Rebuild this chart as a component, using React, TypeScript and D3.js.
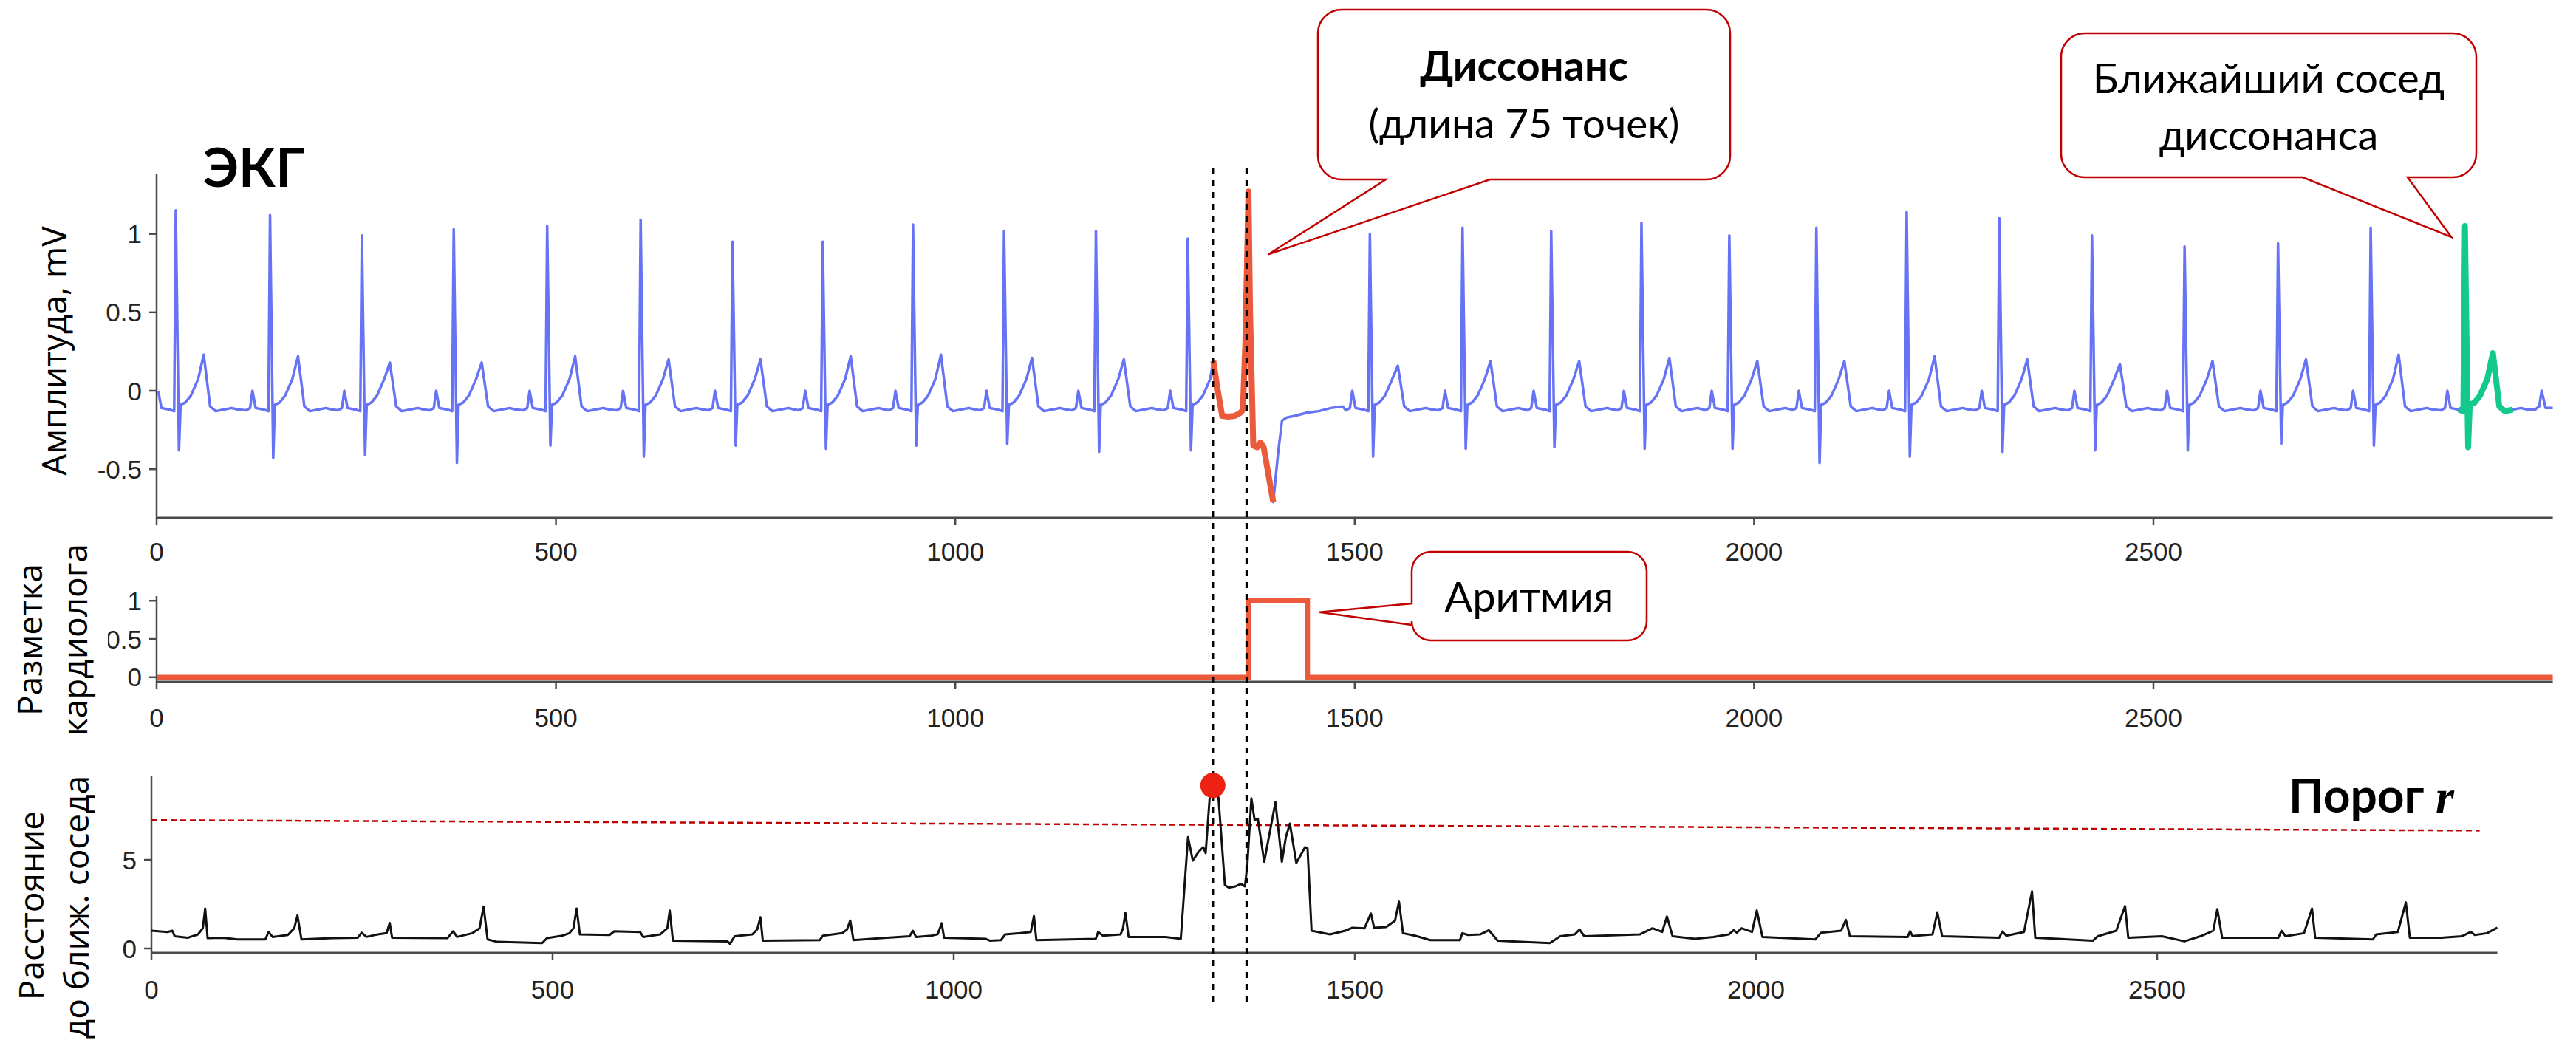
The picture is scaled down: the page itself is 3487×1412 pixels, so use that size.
import React from "react";
import * as d3 from "d3";

const W = 3487;
const H = 1412;

// ---- ЭКГ: положение и амплитуды зубцов каждого удара
const rPeakX = [24, 142, 257, 372, 489, 606, 721, 834, 947, 1061, 1176, 1291, 1519, 1635, 1746, 1859, 1969, 2078, 2191, 2307, 2423, 2539, 2656, 2772, 2890];
const rPeakAmp = [1.15, 1.12, 0.99, 1.03, 1.05, 1.09, 0.95, 0.95, 1.06, 1.02, 1.02, 0.97, 1.0, 1.04, 1.02, 1.07, 0.99, 1.04, 1.14, 1.1, 0.99, 0.92, 0.94, 1.04, 1.05];
const sWaveAmp = [-0.38, -0.43, -0.41, -0.46, -0.35, -0.42, -0.35, -0.37, -0.35, -0.34, -0.39, -0.38, -0.42, -0.37, -0.36, -0.37, -0.37, -0.46, -0.42, -0.39, -0.38, -0.38, -0.34, -0.35, -0.36];
const tWaveAmp = [0.23, 0.22, 0.18, 0.18, 0.22, 0.2, 0.2, 0.22, 0.23, 0.21, 0.2, 0.19, 0.16, 0.19, 0.19, 0.21, 0.19, 0.19, 0.22, 0.2, 0.17, 0.19, 0.2, 0.23, 0.24];

// форма типичного удара: сдвиг от R-зубца и уровень, mV ("R"/"S"/"T" - свой для каждого удара)
const beatShape: [number, number | string][] = [
  [-30, -0.125], [-25, -0.11], [-22, 0.0], [-18, -0.11], [-8, -0.12], [-2, -0.13],
  [0, "R"], [4, "S"], [6, -0.09], [12, -0.075], [19, -0.03], [28, 0.075],
  [35, "T"], [43, -0.1], [50, -0.13], [60, -0.12], [70, -0.11], [78, -0.12],
];

// диссонанс (75 точек) и участок сразу после него
const discordSeg = [
  [1323, 0.19], [1328, 0.02], [1334, -0.16], [1342, -0.165], [1350, -0.16], [1357, -0.14],
  [1360, -0.12], [1363, 0.3], [1367, 1.27], [1369, 0.5], [1373, -0.35], [1378, -0.36],
  [1382, -0.33], [1386, -0.36], [1398, -0.71],
];
const recoverySeg = [
  [1404, -0.4], [1409, -0.19], [1415, -0.17], [1425, -0.16], [1440, -0.14], [1455, -0.13], [1470, -0.11], [1485, -0.1],
];
const tailSeg = [[2978, -0.12], [2983, -0.1], [2986, 0.0], [2991, -0.11], [3000, -0.11]];
const neighbourRange = [2880, 2956];

// ---- разметка кардиолога
const labelX = [0, 1367, 1441, 3000];
const labelY = [0, 1, 0, 0];

// ---- расстояние до ближайшего соседа (профиль матрицы)
const mpPoints = [
  [0, 1.0], [20, 0.93], [26, 1.0], [29, 0.69], [45, 0.6], [58, 0.79], [64, 1.14], [67, 2.25], [70, 0.58], [89, 0.6],
  [107, 0.51], [142, 0.51], [146, 0.93], [151, 0.65], [170, 0.76], [178, 1.14], [182, 1.86], [187, 0.51], [226, 0.58],
  [257, 0.6], [262, 0.89], [268, 0.65], [282, 0.79], [293, 0.86], [297, 1.44], [300, 0.6], [369, 0.58], [376, 0.97],
  [381, 0.65], [400, 0.86], [409, 1.14], [414, 2.36], [419, 0.51], [431, 0.37], [487, 0.3], [493, 0.58], [512, 0.72],
  [521, 0.86], [526, 1.14], [530, 2.25], [534, 0.79], [571, 0.76], [577, 0.97], [609, 0.93], [613, 0.65], [634, 0.79],
  [643, 1.14], [646, 2.14], [650, 0.44], [718, 0.4], [721, 0.26], [727, 0.69], [749, 0.79], [755, 1.07], [759, 1.76],
  [762, 0.44], [833, 0.47], [837, 0.72], [861, 0.86], [867, 1.07], [871, 1.58], [875, 0.47], [910, 0.58], [945, 0.69],
  [949, 1.0], [953, 0.65], [972, 0.72], [980, 0.8], [985, 1.42], [988, 0.6], [1040, 0.54], [1045, 0.44], [1059, 0.47],
  [1064, 0.79], [1083, 0.86], [1096, 0.93], [1100, 1.83], [1103, 0.47], [1177, 0.54], [1180, 0.93], [1186, 0.72],
  [1208, 0.79], [1211, 1.14], [1214, 2.0], [1218, 0.65], [1264, 0.65], [1283, 0.54], [1292, 6.28], [1298, 4.96],
  [1305, 5.44], [1311, 5.72], [1314, 5.38], [1319, 8.5], [1324, 9.2], [1330, 8.5], [1338, 3.57], [1343, 3.43],
  [1351, 3.5], [1358, 3.64], [1363, 3.5], [1366, 4.75], [1371, 8.47], [1375, 7.25], [1379, 7.32], [1387, 4.89],
  [1401, 8.25], [1409, 4.89], [1414, 6.28], [1419, 7.04], [1427, 4.82], [1438, 5.72], [1441, 5.65], [1446, 1.0],
  [1469, 0.79], [1488, 1.0], [1497, 1.17], [1512, 1.14], [1520, 1.97], [1524, 1.17], [1539, 1.21], [1550, 1.56],
  [1555, 2.64], [1560, 0.86], [1575, 0.72], [1594, 0.47], [1631, 0.47], [1634, 0.86], [1641, 0.76], [1656, 0.79],
  [1667, 1.03], [1678, 0.44], [1743, 0.3], [1756, 0.69], [1774, 0.79], [1780, 1.07], [1786, 0.69], [1855, 0.79],
  [1871, 1.14], [1883, 0.93], [1889, 1.8], [1896, 0.69], [1924, 0.54], [1947, 0.65], [1966, 0.79], [1972, 1.03],
  [1976, 0.89], [1982, 1.14], [1995, 0.93], [2001, 2.14], [2008, 0.65], [2074, 0.51], [2081, 0.89], [2106, 1.0],
  [2112, 1.61], [2117, 0.69], [2189, 0.65], [2192, 0.97], [2195, 0.7], [2220, 0.79], [2226, 2.04], [2232, 0.69],
  [2303, 0.6], [2307, 0.96], [2312, 0.72], [2334, 0.93], [2344, 3.22], [2348, 0.6], [2420, 0.44], [2426, 0.69],
  [2449, 1.0], [2460, 2.39], [2464, 0.6], [2506, 0.69], [2534, 0.4], [2556, 0.72], [2570, 1.0], [2575, 2.22],
  [2581, 0.6], [2651, 0.6], [2655, 1.0], [2660, 0.69], [2683, 0.86], [2693, 2.25], [2697, 0.6], [2769, 0.51],
  [2773, 0.79], [2800, 0.93], [2810, 2.6], [2815, 0.6], [2854, 0.6], [2880, 0.69], [2891, 0.93], [2896, 0.76],
  [2911, 0.86], [2924, 1.17],
];
const thresholdLine = [[0, 7.24], [2902, 6.65]];
const discordIdx = 1323;
const discordDist = 9.2;
const arrhythmiaStart = 1365;

// ---- подписи осей
const xTicks = [0, 500, 1000, 1500, 2000, 2500];
const ecgTicks = [-0.5, 0, 0.5, 1];
const labelTicks = [0, 0.5, 1];
const mpTicks = [0, 5];

// собираем ЭКГ из ударов
const beatPoints = rPeakX.flatMap((r, i) =>
  beatShape.map(([dx, lv]) => [
    r + dx,
    lv === "R" ? rPeakAmp[i] : lv === "S" ? sWaveAmp[i] : lv === "T" ? tWaveAmp[i] : (lv as number),
  ])
);
const ecg = beatPoints
  .filter(([x]) => x >= 0 && x <= 3000 && (x < 1320 || x >= 1488))
  .concat(discordSeg, recoverySeg, tailSeg)
  .sort((a, b) => a[0] - b[0]);
const neighbour = ecg.filter(([x]) => x >= neighbourRange[0] && x <= neighbourRange[1]);

const AXIS = "#4a4a4a";
const TICK_FONT = "'Liberation Sans', Arial, sans-serif";
const TITLE_FONT = "'Open Sans', sans-serif";
const CALLOUT_FONT = "Lato, 'Open Sans', sans-serif";
const CALLOUT_RED = "#c00000";

function calloutBottom(x, y, w, h, r, a, b, px, py) {
  return `M${x + r},${y} H${x + w - r} A${r},${r} 0 0 1 ${x + w},${y + r} V${y + h - r} A${r},${r} 0 0 1 ${x + w - r},${y + h} H${b} L${px},${py} L${a},${y + h} H${x + r} A${r},${r} 0 0 1 ${x},${y + h - r} V${y + r} A${r},${r} 0 0 1 ${x + r},${y} Z`;
}
function calloutLeft(x, y, w, h, r, a, b, px, py) {
  return `M${x + r},${y} H${x + w - r} A${r},${r} 0 0 1 ${x + w},${y + r} V${y + h - r} A${r},${r} 0 0 1 ${x + w - r},${y + h} H${x + r} A${r},${r} 0 0 1 ${x},${y + h - r} V${b} L${px},${py} L${x},${a} V${y + r} A${r},${r} 0 0 1 ${x + r},${y} Z`;
}

function Axes({ xScale, yScale, xTickVals, yTickVals, labelBase }) {
  const [x0, x1] = xScale.range();
  const [yb, yt] = yScale.range();
  return (
    <g>
      <line x1={x0} x2={x1} y1={yb} y2={yb} stroke={AXIS} strokeWidth={3} />
      <line x1={x0} x2={x0} y1={yb} y2={yt} stroke={AXIS} strokeWidth={2.5} />
      {xTickVals.map((t) => (
        <g key={"x" + t}>
          <line x1={xScale(t)} x2={xScale(t)} y1={yb} y2={yb + 10} stroke={AXIS} strokeWidth={2.5} />
          <text x={xScale(t)} y={labelBase} textAnchor="middle" fontFamily={TICK_FONT} fontSize={35} fill="#222">
            {t}
          </text>
        </g>
      ))}
      {yTickVals.map((t) => (
        <g key={"y" + t}>
          <line x1={x0 - 10} x2={x0} y1={yScale(t)} y2={yScale(t)} stroke={AXIS} strokeWidth={2.5} />
          <text x={x0 - 20} y={yScale(t)} dy="0.36em" textAnchor="end" fontFamily={TICK_FONT} fontSize={35} fill="#222">
            {t < 0 ? "-" + Math.abs(t) : t}
          </text>
        </g>
      ))}
    </g>
  );
}

export default function App() {
  // шкалы трёх панелей
  const xTop = d3.scaleLinear().domain([0, 3000]).range([212, 3455.6]);
  const yEcg = d3.scaleLinear().domain([-0.81, 1.38]).range([701, 236]);
  const yLab = d3.scaleLinear().domain([-0.06, 1.06]).range([923, 807]);
  const xMp = d3.scaleLinear().domain([0, 2924]).range([205, 3380.5]);
  const yMp = d3.scaleLinear().domain([-0.25, 9.75]).range([1290, 1050]);

  const ecgLine = d3.line().x((d) => xTop(d[0])).y((d) => yEcg(d[1]));
  const labLine = d3
    .line()
    .x((d) => xTop(d[0]))
    .y((d) => yLab(d[1]))
    .curve(d3.curveStepAfter);
  const mpLine = d3.line().x((d) => xMp(d[0])).y((d) => yMp(d[1]));

  const labelData = labelX.map((x, i) => [x, labelY[i]]);

  // концы указателей выносок (в координатах данных)
  const tipDiscord = [xTop(1392), yEcg(0.87)];
  const tipNeighbour = [xTop(2873), yEcg(0.98)];
  const tipArr = [xTop(1456), yLab(0.85)];

  return (
    <div style={{ position: "absolute", left: 0, top: 0 }}>
      <svg width={W} height={H} style={{ display: "block" }}>
        <rect width={W} height={H} fill="#fff" />

        {/* ЭКГ */}
        <Axes xScale={xTop} yScale={yEcg} xTickVals={xTicks} yTickVals={ecgTicks} labelBase={759} />
        <path d={ecgLine(ecg)} fill="none" stroke="#6673f4" strokeWidth={3.5} strokeLinejoin="round" />
        <path d={ecgLine(discordSeg)} fill="none" stroke="#ec5a3c" strokeWidth={8} strokeLinejoin="round" />
        <path d={ecgLine(neighbour)} fill="none" stroke="#14c98e" strokeWidth={8} strokeLinejoin="round" />

        {/* разметка кардиолога */}
        <Axes xScale={xTop} yScale={yLab} xTickVals={xTicks} yTickVals={labelTicks} labelBase={984} />
        <path d={labLine(labelData)} fill="none" stroke="#ec5a3c" strokeWidth={6.5} />

        {/* расстояние до ближайшего соседа */}
        <Axes xScale={xMp} yScale={yMp} xTickVals={xTicks} yTickVals={mpTicks} labelBase={1352} />
        <path
          d={mpLine(thresholdLine)}
          fill="none"
          stroke={CALLOUT_RED}
          strokeWidth={2.5}
          strokeDasharray="8 5"
        />
        <path d={mpLine(mpPoints)} fill="none" stroke="#111" strokeWidth={3} strokeLinejoin="round" />

        {/* вертикальные пунктиры */}
        {[discordIdx, arrhythmiaStart].map((v) => (
          <line
            key={v}
            x1={xTop(v)}
            x2={xTop(v)}
            y1={228}
            y2={1363}
            stroke="#000"
            strokeWidth={4}
            strokeDasharray="8 8"
          />
        ))}
        <circle cx={xMp(discordIdx)} cy={yMp(discordDist)} r={17} fill="#ee2212" />

        {/* подписи осей Y */}
        <text
          transform={`translate(90,475) rotate(-90)`}
          textAnchor="middle"
          fontFamily={TITLE_FONT}
          fontSize={46}
          fill="#000"
        >
          Амплитуда, mV
        </text>
        <rect x={0} y={730} width={146} height={270} fill="#fff" />
        <text transform={`translate(57,866) rotate(-90)`} textAnchor="middle" fontFamily={TITLE_FONT} fontSize={46}>
          Разметка
        </text>
        <text transform={`translate(118,866) rotate(-90)`} textAnchor="middle" fontFamily={TITLE_FONT} fontSize={46}>
          кардиолога
        </text>
        <text transform={`translate(59,1226) rotate(-90)`} textAnchor="middle" fontFamily={TITLE_FONT} fontSize={46}>
          Расстояние
        </text>
        <text transform={`translate(120,1228) rotate(-90)`} textAnchor="middle" fontFamily={TITLE_FONT} fontSize={46}>
          до ближ. соседа
        </text>

        {/* заголовки */}
        <text x={275} y={253} fontFamily={CALLOUT_FONT} fontWeight={700} fontSize={72}>
          ЭКГ
        </text>
        <text x={3098} y={1100} fontFamily={CALLOUT_FONT} fontWeight={700} fontSize={64}>
          Порог{" "}
          <tspan fontFamily="'Liberation Serif', serif" fontStyle="italic">
            r
          </tspan>
        </text>

        {/* выноски */}
        <path
          d={calloutBottom(1784, 13, 558, 230, 32, 1876, 2017, tipDiscord[0], tipDiscord[1])}
          fill="#fff"
          stroke={CALLOUT_RED}
          strokeWidth={2.5}
        />
        <text x={2063} y={109} textAnchor="middle" fontFamily={CALLOUT_FONT} fontWeight={700} fontSize={56}>
          Диссонанс
        </text>
        <text x={2063} y={187} textAnchor="middle" fontFamily={CALLOUT_FONT} fontSize={55}>
          (длина 75 точек)
        </text>

        <path
          d={calloutBottom(2790, 45, 562, 195, 32, 3117, 3259, tipNeighbour[0], tipNeighbour[1])}
          fill="#fff"
          stroke={CALLOUT_RED}
          strokeWidth={2.5}
        />
        <text x={3071} y={126} textAnchor="middle" fontFamily={CALLOUT_FONT} fontSize={56}>
          Ближайший сосед
        </text>
        <text x={3071} y={203} textAnchor="middle" fontFamily={CALLOUT_FONT} fontSize={56}>
          диссонанса
        </text>

        <path
          d={calloutLeft(1911, 747, 318, 120, 26, 817, 846, tipArr[0], tipArr[1])}
          fill="#fff"
          stroke={CALLOUT_RED}
          strokeWidth={2.5}
        />
        <text x={2070} y={828} textAnchor="middle" fontFamily={CALLOUT_FONT} fontSize={56}>
          Аритмия
        </text>
      </svg>
    </div>
  );
}
